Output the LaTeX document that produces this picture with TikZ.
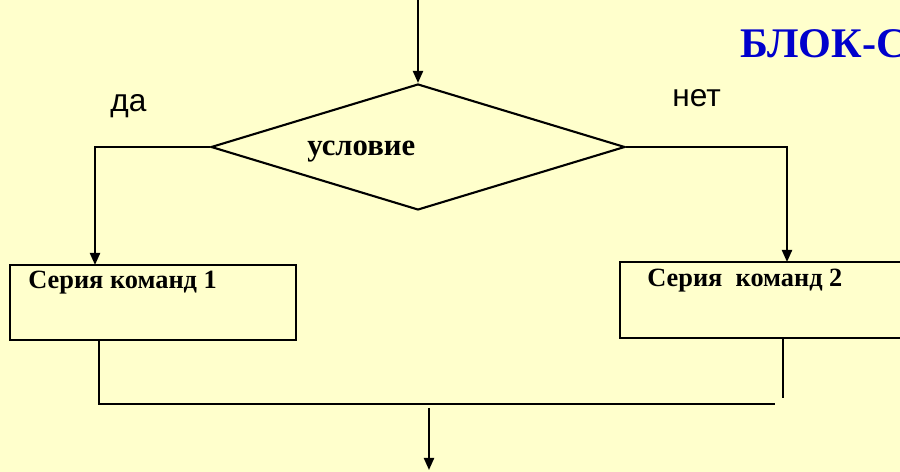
\documentclass[tikz,border=0pt]{standalone}
\usepackage{fontspec}
\setmainfont{Liberation Serif}
\newfontfamily\sansru{Liberation Sans}
\usetikzlibrary{shapes.geometric,arrows.meta}
\definecolor{bgyellow}{RGB}{255,255,204}
\definecolor{titleblue}{RGB}{0,0,204}
\tikzset{
  line/.style={line width=1.2pt, black},
  arr/.style={line, -{Triangle[length=0.24cm,width=0.2cm]}},
  boxnode/.style={draw, line width=1.2pt, rectangle, inner sep=0pt},
  cmdtext/.style={font=\bfseries\fontsize{15}{18}\selectfont, inner sep=0pt, anchor=base west},
  yesno/.style={font=\sansru\fontsize{18}{21}\selectfont, inner sep=0pt, anchor=base west},
}
\begin{document}
\begin{tikzpicture}[x=0.02cm, y=-0.02cm]
\clip (0,0) rectangle (900,472);
\fill[bgyellow] (0,0) rectangle (900,472);
\useasboundingbox (0,0) rectangle (900,472);

% title (cut at the right edge, as in the reference)
\node[font=\bfseries\fontsize{24}{28}\selectfont, text=titleblue, inner sep=0pt, anchor=base west] (title) at (740,58) {БЛОК-С};

% decision
\node[draw, line width=1.2pt, diamond, inner sep=0pt, minimum width=8.28cm, minimum height=2.52cm, aspect=3.29] (dia) at (418,147) {};
\node[font=\bfseries\fontsize{17.5}{20}\selectfont, inner sep=0pt, anchor=base west] (cond) at (307,156) {условие};

\node[yesno] (yes) at (110,112) {да};
\node[yesno] (no) at (672,107) {нет};

% boxes
\node[boxnode, minimum width=5.72cm, minimum height=1.5cm] (box1) at (153,302.5) {};
\node[cmdtext] (t1) at (28,289) {Серия команд 1};
\node[boxnode, minimum width=5.8cm, minimum height=1.52cm] (box2) at (765,300) {};
\node[cmdtext] (t2) at (647,287) {Серия~~команд 2};

% coordinates
\coordinate (start) at (418,0);
\coordinate (b1in) at (95,265);
\coordinate (b2in) at (787,262);
\coordinate (b1out) at (99,340);
\coordinate (b2out) at (783,338);
\coordinate (joinL) at (99,404);
\coordinate (joinR) at (775,404);
\coordinate (b2end) at (783,398);
\coordinate (endtop) at (429,408);
\coordinate (endbot) at (429,470);

% connectors
\draw[arr] (start) -- (dia.north);
\draw[arr] (dia.west) -| (b1in);
\draw[arr] (dia.east) -| (b2in);
\draw[line] (b1out) -- (joinL) -- (joinR);
\draw[line] (b2out) -- (b2end);
\draw[arr] (endtop) -- (endbot);
\end{tikzpicture}
\end{document}
